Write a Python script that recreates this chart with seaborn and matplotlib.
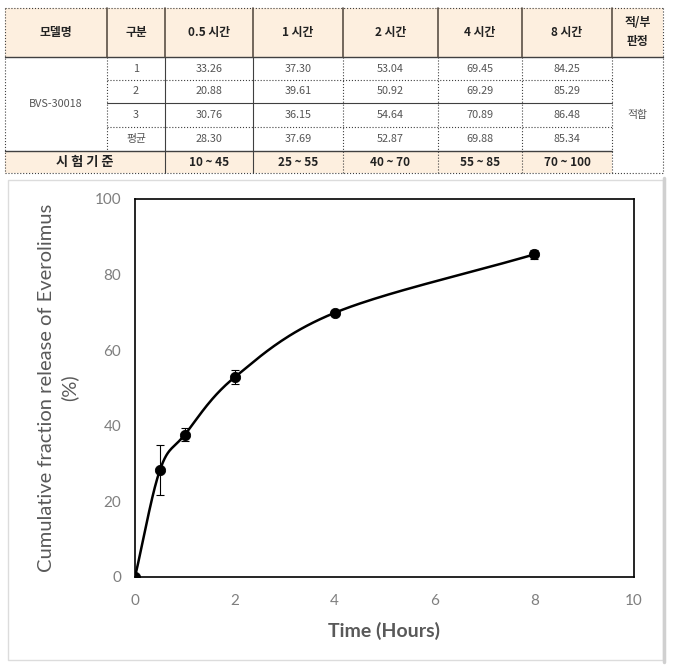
import numpy as np
import pandas as pd
import matplotlib
matplotlib.use("Agg")
import matplotlib.pyplot as plt
from matplotlib.patches import Rectangle
import seaborn as sns

# --- data ---
time_labels = ["0.5 시간", "1 시간", "2 시간", "4 시간", "8 시간"]
rep_1 = [33.26, 37.30, 53.04, 69.45, 84.25]
rep_2 = [20.88, 39.61, 50.92, 69.29, 85.29]
rep_3 = [30.76, 36.15, 54.64, 70.89, 86.48]
avg = [28.30, 37.69, 52.87, 69.88, 85.34]
criteria = ["10 ~ 45", "25 ~ 55", "40 ~ 70", "55 ~ 85", "70 ~ 100"]
row_names = ["1", "2", "3", "평균"]
model_name = "BVS-30018"
verdict = "적합"

hours = [0, 0.5, 1, 2, 4, 8]
release = [0] + avg
sd = [0] + list(np.std(np.array([rep_1, rep_2, rep_3]), axis=0, ddof=1))

sns.set_style("white")
plt.rcParams["font.family"] = ["Lato", "Noto Sans CJK KR", "DejaVu Sans"]
kr = ["Noto Sans CJK KR", "DejaVu Sans"]

W, H = 680, 670
fig = plt.figure(figsize=(6.8, 6.7), dpi=100)

# background axes in pixel coords for table + chart frame
bg = fig.add_axes([0, 0, 1, 1])
bg.set_xlim(0, W)
bg.set_ylim(H, 0)
bg.axis("off")

# --- table ---
cols = [5, 107, 165, 253, 343, 438, 522, 612, 663]
rows = [8, 57, 80, 103, 127, 151, 173]
peach = "#fdefdf"
line_c = "#404040"

bg.add_patch(Rectangle((cols[0], rows[0]), cols[-1] - cols[0], rows[1] - rows[0], color=peach, lw=0))
bg.add_patch(Rectangle((cols[0], rows[5]), cols[7] - cols[0], rows[6] - rows[5], color=peach, lw=0))

# horizontal lines
bg.plot([cols[0], cols[-1]], [rows[0]] * 2, color=line_c, lw=0.8, ls=":")
bg.plot([cols[0], cols[-1]], [rows[1]] * 2, color=line_c, lw=1.0)
for i, y in enumerate(rows[2:5]):
    style = "-" if i == 1 else ":"
    bg.plot([cols[1], cols[7]], [y] * 2, color=line_c, lw=0.8, ls=style)
bg.plot([cols[0], cols[7]], [rows[5]] * 2, color=line_c, lw=1.0)
bg.plot([cols[0], cols[-1]], [rows[6]] * 2, color=line_c, lw=0.8, ls=":")

# vertical lines
bg.plot([cols[0]] * 2, [rows[0], rows[6]], color=line_c, lw=0.8, ls=":")
bg.plot([cols[-1]] * 2, [rows[0], rows[6]], color=line_c, lw=0.8, ls=":")
for j, x in enumerate(cols[1:-1], start=1):
    bg.plot([x] * 2, [rows[0], rows[1]], color="#5a5046", lw=1.2)
    y0 = rows[1]
    y1 = rows[5] if j == 1 else rows[6]
    style = "-" if j in (2, 3) else ":"
    bg.plot([x] * 2, [y0, y1], color=line_c, lw=0.8, ls=style)

def cx(i):
    return (cols[i] + cols[i + 1]) / 2

def cy(i):
    return (rows[i] + rows[i + 1]) / 2

hdr = ["모델명", "구분"] + time_labels + ["적/부\n판정"]
for i, t in enumerate(hdr):
    bg.text(cx(i), cy(0), t, ha="center", va="center", fontsize=8.5,
            fontweight="bold", family=kr, color="#222222", linespacing=1.6)

bg.text(cx(0), (rows[1] + rows[5]) / 2, model_name, ha="center", va="center",
        fontsize=7.8, color="#555555", family=kr)
table_rows = [rep_1, rep_2, rep_3, avg]
for r, (name, vals) in enumerate(zip(row_names, table_rows)):
    bg.text(cx(1), cy(r + 1), name, ha="center", va="center", fontsize=7.8,
            color="#555555", family=kr)
    for c, v in enumerate(vals):
        bg.text(cx(c + 2), cy(r + 1), f"{v:.2f}", ha="center", va="center",
                fontsize=7.8, color="#555555", family=kr)

bg.text((cols[0] + cols[2]) / 2, cy(5), "시 험 기 준", ha="center", va="center",
        fontsize=9.5, fontweight="bold", family=kr, color="#222222")
for c, t in enumerate(criteria):
    bg.text(cx(c + 2), cy(5), t, ha="center", va="center", fontsize=8.5,
            fontweight="bold", family=kr, color="#222222")
bg.text(cx(7), (rows[1] + rows[6]) / 2, verdict, ha="center", va="center",
        fontsize=7.8, color="#555555", family=kr)

# chart area frame
bg.add_patch(Rectangle((8, 180), 655, 480, fill=False, ec="#dcdcdc", lw=1.0))
bg.plot([664, 664], [178, 662], color="#d0d0d0", lw=2.5)

# --- chart ---
ax = fig.add_axes([135 / W, 1 - 577 / H, (634 - 135) / W, (577 - 199) / H])

# Excel-style smoothed line (Catmull-Rom through the points)
px = np.array(hours, dtype=float)
py = np.array(release, dtype=float)
ex = np.concatenate([[2 * px[0] - px[1]], px, [2 * px[-1] - px[-2]]])
ey = np.concatenate([[2 * py[0] - py[1]], py, [2 * py[-1] - py[-2]]])
sx, sy = [], []
t = np.linspace(0, 1, 40)
for i in range(1, len(ex) - 2):
    p0 = np.array([ex[i], ey[i]])
    p3 = np.array([ex[i + 1], ey[i + 1]])
    p1 = p0 + (p3 - np.array([ex[i - 1], ey[i - 1]])) / 6
    p2 = p3 - (np.array([ex[i + 2], ey[i + 2]]) - p0) / 6
    b = ((1 - t) ** 3)[:, None] * p0 + (3 * (1 - t) ** 2 * t)[:, None] * p1 \
        + (3 * (1 - t) * t ** 2)[:, None] * p2 + (t ** 3)[:, None] * p3
    sx.extend(b[:, 0])
    sy.extend(b[:, 1])
curve = pd.DataFrame({"x": sx, "y": sy})
pts = pd.DataFrame({"x": hours, "y": release, "sd": sd})

sns.lineplot(data=curve, x="x", y="y", ax=ax, color="black", lw=1.8,
             sort=False, estimator=None)
ax.errorbar(pts["x"][1:], pts["y"][1:], yerr=pts["sd"][1:], fmt="none",
            ecolor="black", elinewidth=0.8, capsize=3, capthick=0.8)
sns.scatterplot(data=pts, x="x", y="y", ax=ax, color="black", s=55,
                edgecolor="black", zorder=5)

ax.set_xlim(0, 10)
ax.set_ylim(0, 100)
ax.set_xticks([0, 2, 4, 6, 8, 10])
ax.set_yticks([0, 20, 40, 60, 80, 100])
ax.tick_params(axis="both", length=0, labelsize=11, labelcolor="#7f7f7f")
ax.tick_params(axis="x", pad=12)
ax.tick_params(axis="y", pad=10)
for s in ax.spines.values():
    s.set_color("black")
    s.set_linewidth(1.2)
ax.set_xlabel("Time (Hours)", fontsize=14, fontweight="bold", color="#595959", labelpad=10)
ax.set_ylabel("Cumulative fraction release of Everolimus\n(%)", fontsize=14.5,
              color="#595959", labelpad=12, linespacing=1.3)

fig.savefig("out.png", dpi=100)
